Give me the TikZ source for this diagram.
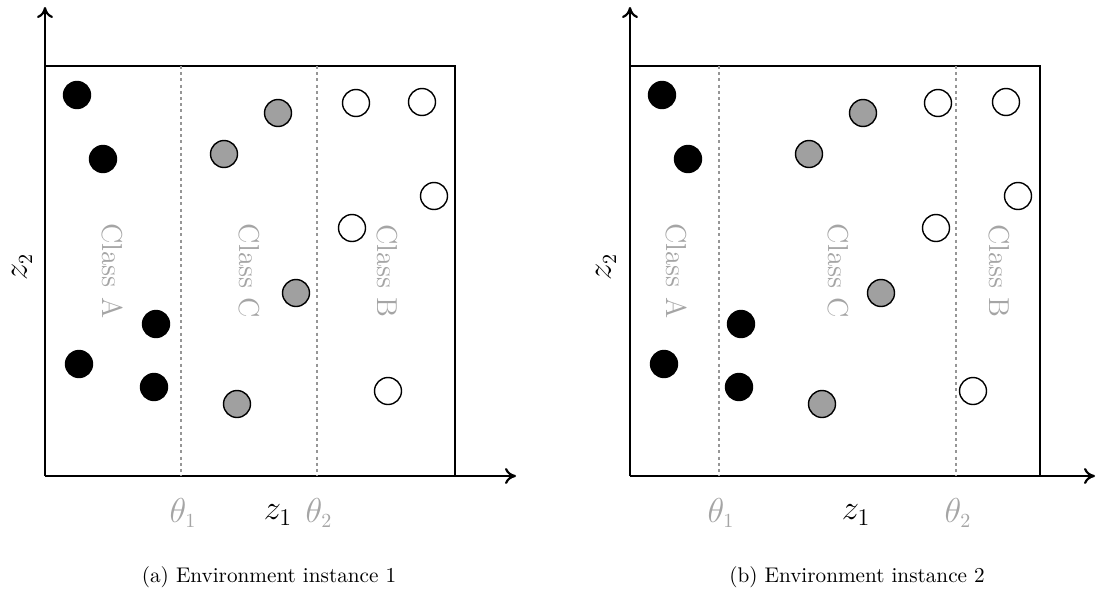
\documentclass[tikz,border=0pt]{standalone}
\usetikzlibrary{arrows.meta}
\definecolor{lgray}{RGB}{165,165,165}
\definecolor{cgray}{RGB}{160,160,160}
\definecolor{dgray}{RGB}{150,150,150}
\begin{document}
\begin{tikzpicture}[x=0.5pt,y=-0.5pt,
  axis/.style={line width=1pt,-{To[length=5.5pt,width=8pt,line width=1.1pt]}},
  frame/.style={line width=0.8pt},
  thr/.style={dgray,line width=0.8pt,dash pattern=on 1.5pt off 1.6pt},
  pt/.style={circle,draw=black,line width=0.7pt,minimum size=13.5pt,inner sep=0pt},
  blk/.style={pt,fill=black},
  gry/.style={pt,fill=cgray},
  wht/.style={pt,fill=white},
  cls/.style={lgray,font=\Large,rotate=-90},
  thl/.style={lgray,font=\LARGE},
  zl/.style={font=\LARGE},
  zv/.style={font=\LARGE,rotate=90},
  captxt/.style={font=\fontsize{10.6}{12}\selectfont}]
\useasboundingbox (0,0) rectangle (1096,589);
% ---------- panel (a)
\coordinate (oa) at (45,476);
\coordinate (ya) at (45,7);
\coordinate (xa) at (516,476);
\coordinate (tla) at (45,66);
\coordinate (tra) at (455,66);
\coordinate (bra) at (455,476);
\draw[frame] (tla) -- (tra) -- (bra);
\draw[axis] (oa) -- (ya);
\draw[axis] (oa) -- (xa);
\coordinate (t1at) at (181,66); \coordinate (t1ab) at (181,476);
\coordinate (t2at) at (317,66); \coordinate (t2ab) at (317,476);
\draw[thr] (t1at) -- (t1ab);
\draw[thr] (t2at) -- (t2ab);
\node[cls] (clAa) at (112,271) {Class A};
\node[cls] (clCa) at (249,271) {Class C};
\node[cls] (clBa) at (387,271) {Class B};
\node[thl] (th1a) at (183,513) {$\theta_{\scriptscriptstyle 1}$};
\node[zl] (z1a) at (278,515) {$z_1$};
\node[thl] (th2a) at (319,513) {$\theta_{\scriptscriptstyle 2}$};
\node[zv] (z2a) at (22,267) {$z_{\scriptscriptstyle 2}$};
\node[blk] (ba1) at (77,95) {};
\node[blk] (ba2) at (103,159) {};
\node[blk] (ba3) at (156,324) {};
\node[blk] (ba4) at (79,364) {};
\node[blk] (ba5) at (154,387) {};
\node[gry] (ga1) at (278,113) {};
\node[gry] (ga2) at (224,154) {};
\node[gry] (ga3) at (296,293) {};
\node[gry] (ga4) at (237,404) {};
\node[wht] (wa1) at (356,103) {};
\node[wht] (wa2) at (422,102) {};
\node[wht] (wa3) at (434,196) {};
\node[wht] (wa4) at (352,228) {};
\node[wht] (wa5) at (388,391) {};
\node[captxt] (capa) at (269,577) {(a) Environment instance 1};
% ---------- panel (b)
\coordinate (ob) at (630,476);
\coordinate (yb) at (630,7);
\coordinate (xb) at (1095,476);
\coordinate (tlb) at (630,66);
\coordinate (trb) at (1040,66);
\coordinate (brb) at (1040,476);
\draw[frame] (tlb) -- (trb) -- (brb);
\draw[axis] (ob) -- (yb);
\draw[axis] (ob) -- (xb);
\coordinate (t1bt) at (719,66); \coordinate (t1bb) at (719,476);
\coordinate (t2bt) at (956,66); \coordinate (t2bb) at (956,476);
\draw[thr] (t1bt) -- (t1bb);
\draw[thr] (t2bt) -- (t2bb);
\node[cls] (clAb) at (676,271) {Class A};
\node[cls] (clCb) at (838,271) {Class C};
\node[cls] (clBb) at (999,271) {Class B};
\node[thl] (th1b) at (721,513) {$\theta_{\scriptscriptstyle 1}$};
\node[zl] (z1b) at (856,515) {$z_1$};
\node[thl] (th2b) at (958,513) {$\theta_{\scriptscriptstyle 2}$};
\node[zv] (z2b) at (606,267) {$z_{\scriptscriptstyle 2}$};
\node[blk] (bb1) at (662,95) {};
\node[blk] (bb2) at (688,159) {};
\node[blk] (bb3) at (741,324) {};
\node[blk] (bb4) at (664,364) {};
\node[blk] (bb5) at (739,387) {};
\node[gry] (gb1) at (863,113) {};
\node[gry] (gb2) at (809,154) {};
\node[gry] (gb3) at (881,293) {};
\node[gry] (gb4) at (822,404) {};
\node[wht] (wb1) at (938,103) {};
\node[wht] (wb2) at (1006,102) {};
\node[wht] (wb3) at (1018,196) {};
\node[wht] (wb4) at (936,228) {};
\node[wht] (wb5) at (973,391) {};
\node[captxt] (capb) at (857,577) {(b) Environment instance 2};
\end{tikzpicture}
\end{document}
